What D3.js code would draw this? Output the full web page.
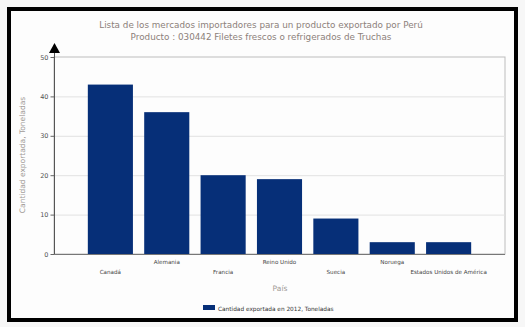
<!DOCTYPE html>
<html><head><meta charset="utf-8">
<script src="https://cdn.jsdelivr.net/npm/d3@7"></script>
<style>html,body{margin:0;padding:0;background:#fff;}svg{display:block;}</style>
</head><body>
<script>
const categories = ["Canadá","Alemania","Francia","Reino Unido","Suecia","Noruega","Estados Unidos de América"];
const values = [43, 36, 20, 19, 9, 3, 3];
const yTicks = [0, 10, 20, 30, 40, 50];
const titleLines = ["Lista de los mercados importadores para un producto exportado por Perú","Producto : 030442 Filetes frescos o refrigerados de Truchas"];
const seriesName = "Cantidad exportada en 2012, Toneladas";
const xTitle = "País";
const yTitle = "Cantidad exportada, Toneladas";

const W = 525, H = 327;
const svg = d3.select("body").append("svg").attr("width", W).attr("height", H);
svg.append("rect").attr("width", W).attr("height", H).attr("fill", "#f7f7f7");
svg.append("rect").attr("x", 9).attr("y", 9).attr("width", 507).attr("height", 311)
  .attr("fill", "#fdfdfd").attr("stroke", "#000").attr("stroke-width", 4);

const m = {l: 54, r: 505, t: 57, b: 254};
const x = d3.scaleBand().domain(categories).range([m.l, m.r]).paddingInner(0.2).paddingOuter(0.6);
const y = d3.scaleLinear().domain([0, 50]).range([m.b, m.t]);

const font = "DejaVu Sans, Verdana, sans-serif";

// title
svg.append("g").selectAll("text").data(titleLines).join("text")
  .attr("x", 261).attr("y", (d,i) => 28 + i*12).attr("text-anchor", "middle")
  .attr("font-family", font).attr("font-size", 8.8).attr("fill", "#8c807a").text(d => d);

// plot border
svg.append("rect").attr("x", m.l).attr("y", m.t).attr("width", m.r - m.l).attr("height", m.b - m.t)
  .attr("fill", "none").attr("stroke", "#bdbdbd").attr("stroke-width", 1);

// gridlines
svg.append("g").selectAll("line").data(yTicks.filter(t => t > 0 && t < 50)).join("line")
  .attr("x1", m.l).attr("x2", m.r).attr("y1", d => y(d) + 0.5).attr("y2", d => y(d) + 0.5)
  .attr("stroke", "#e2e2e2");

// bars
svg.append("g").selectAll("rect").data(values).join("rect")
  .attr("x", (d,i) => x(categories[i])).attr("width", x.bandwidth())
  .attr("y", d => y(d)).attr("height", d => y(0) - y(d)).attr("fill", "#062f78");

// y axis
const ya = svg.append("g").attr("transform", `translate(${m.l + 0.5},0)`)
  .call(d3.axisLeft(y).tickValues(yTicks).tickSize(4).tickPadding(2));
ya.select(".domain").remove();
ya.selectAll("line").attr("stroke", "#666");
ya.selectAll("text").attr("font-family", font).attr("font-size", 6.5).attr("fill", "#555");
svg.append("line").attr("x1", m.l + 0.5).attr("x2", m.l + 0.5).attr("y1", 50).attr("y2", m.b)
  .attr("stroke", "#555");
svg.append("path").attr("d", `M${m.l - 5},53 L${m.l + 6},53 L${m.l + 0.5},43 Z`).attr("fill", "#000");

// x axis line
svg.append("line").attr("x1", m.l).attr("x2", m.r).attr("y1", m.b + 0.5).attr("y2", m.b + 0.5)
  .attr("stroke", "#777");

// x labels
svg.append("g").selectAll("text").data(categories).join("text")
  .attr("x", d => x(d) + x.bandwidth()/2)
  .attr("y", (d,i) => i % 2 === 0 ? 274 : 264)
  .attr("text-anchor", "middle").attr("font-family", font).attr("font-size", 5.6).attr("fill", "#444")
  .text(d => d);

// axis titles
svg.append("text").attr("x", 280).attr("y", 291).attr("text-anchor", "middle")
  .attr("font-family", font).attr("font-size", 7.5).attr("fill", "#a09a96").text(xTitle);
svg.append("text").attr("transform", "translate(25,155) rotate(-90)").attr("text-anchor", "middle")
  .attr("font-family", font).attr("font-size", 7.5).attr("fill", "#a09a96").text(yTitle);

// legend
svg.append("rect").attr("x", 203).attr("y", 305).attr("width", 12).attr("height", 5).attr("fill", "#062f78");
svg.append("text").attr("x", 218).attr("y", 310.5).attr("font-family", font).attr("font-size", 5.8)
  .attr("fill", "#333").text(seriesName);
</script>
</body></html>
